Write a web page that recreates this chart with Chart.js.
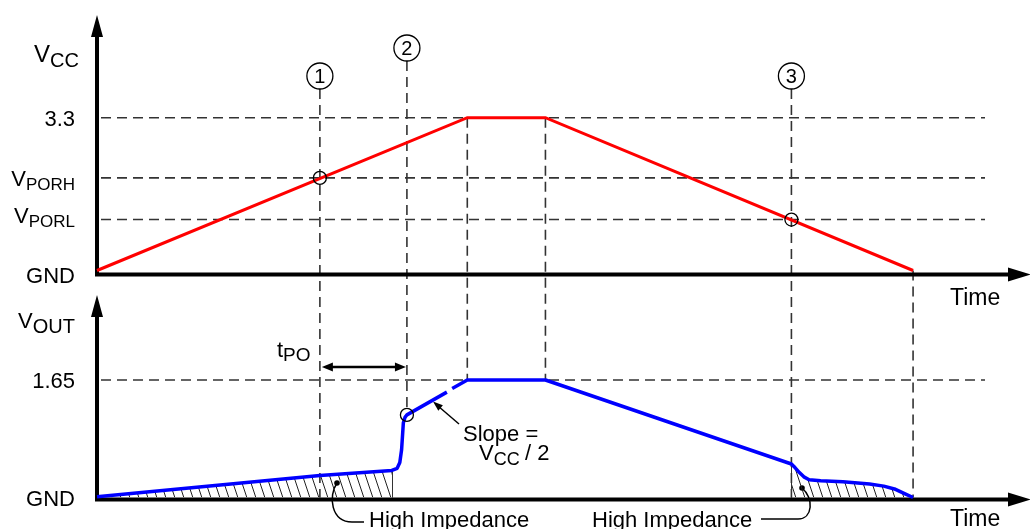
<!DOCTYPE html>
<html>
<head>
<meta charset="utf-8">
<script src="https://cdn.jsdelivr.net/npm/chart.js@4.4.1/dist/chart.umd.min.js"></script>
<style>
  html, body { margin: 0; padding: 0; background: #fff; }
  #wrap { position: relative; width: 1030px; height: 529px; overflow: hidden; }
  canvas { position: absolute; left: 0; top: 0; }
</style>
</head>
<body>
<div id="wrap">
  <canvas id="vout" width="1030" height="529"></canvas>
  <canvas id="vcc" width="1030" height="529"></canvas>
</div>
<script>
// ---- data (time in arbitrary units 0..100, voltages in V) ----
const eventTimes = [25.1, 34.9, 41.7, 50.5, 78.2, 91.9];
const markerTimes = [25.1, 34.9, 78.2];
const markerNames = ['1', '2', '3'];

const vccTime = [0, 41.7, 50.5, 91.9];
const vccVolts = [0, 3.3, 3.3, 0];
const vccLevels = [3.3, 2.0, 1.1];
const vccTickValues = [0, 1.1, 2.0, 3.3];
const vccTickLabels = ['GND', 'V_PORL', 'V_PORH', '3.3'];
const vccCrossings = [[25.1, 2.0], [78.2, 1.1]];

const voutTime = [0, 25.1, 33.2, 33.8, 34.1, 34.3, 34.5, 34.7, 34.9, 39.4, 39.7, 40.0, 41.7, 50.5,
                  78.2, 78.6, 79.1, 79.6, 80.2, 81.5, 84.0, 87.0, 88.6, 89.8, 91.0, 91.9];
const voutVolts = [0.01, 0.31, 0.38, 0.41, 0.49, 0.67, 1.05, 1.13, 1.16, 1.48, null, 1.53, 1.65, 1.65,
                   0.47, 0.42, 0.35, 0.29, 0.25, 0.235, 0.22, 0.19, 0.16, 0.12, 0.05, 0];
const voutLevels = [1.65];
const voutTickValues = [0, 1.65];
const voutTickLabels = ['GND', '1.65'];
const hatchBounds = [33.2, 78.2];
const tPO = [25.1, 34.9];

const FONT = '"Liberation Sans", Arial, sans-serif';
const DASH = '#333';

function pts(ts, vs) { return ts.map((t, i) => ({ x: t, y: vs[i] })); }

// draw text made of [text, size, dy] parts, left to right
function parts(ctx, list, x, y) {
  let cx = x;
  list.forEach(([s, size, dy]) => {
    ctx.font = size + 'px ' + FONT;
    ctx.fillText(s, cx, y + (dy || 0));
    cx += ctx.measureText(s).width;
  });
}
function partsWidth(ctx, list) {
  let w = 0;
  list.forEach(([s, size]) => { ctx.font = size + 'px ' + FONT; w += ctx.measureText(s).width; });
  return w;
}
function tickParts(lbl) {
  if (lbl.indexOf('_') < 0) return [[lbl, 22, 0]];
  const [a, b] = lbl.split('_');
  return [[a, 22, 0], [b, 17, 4]];
}
function tri(ctx, a, b, c) {
  ctx.beginPath(); ctx.moveTo(a[0], a[1]); ctx.lineTo(b[0], b[1]); ctx.lineTo(c[0], c[1]); ctx.closePath(); ctx.fill();
}
function dashLine(ctx, x1, y1, x2, y2) {
  ctx.save();
  ctx.strokeStyle = DASH; ctx.lineWidth = 1.6; ctx.setLineDash([10, 6]);
  ctx.beginPath(); ctx.moveTo(x1, y1); ctx.lineTo(x2, y2); ctx.stroke();
  ctx.restore();
}
function axes(ctx, x0, yAxis, yTip) {
  ctx.save();
  ctx.strokeStyle = '#000'; ctx.fillStyle = '#000'; ctx.lineWidth = 4;
  ctx.beginPath();
  ctx.moveTo(x0, yTip + 18); ctx.lineTo(x0, yAxis + 2);
  ctx.moveTo(x0 - 2, yAxis); ctx.lineTo(1012, yAxis);
  ctx.stroke();
  tri(ctx, [x0, yTip], [x0 - 6, yTip + 22], [x0 + 6, yTip + 22]);
  tri(ctx, [1031, yAxis], [1008, yAxis - 7], [1008, yAxis + 7]);
  ctx.restore();
}
function ring(ctx, x, y, r) {
  ctx.save();
  ctx.strokeStyle = '#000'; ctx.lineWidth = 1.3;
  ctx.beginPath(); ctx.arc(x, y, r, 0, Math.PI * 2); ctx.stroke();
  ctx.restore();
}

const vccDecor = {
  id: 'vccDecor',
  beforeDatasetsDraw(chart) {
    const { ctx, scales: { x, y } } = chart;
    vccLevels.forEach(v => dashLine(ctx, x.left + 4, y.getPixelForValue(v), x.right, y.getPixelForValue(v)));
    axes(ctx, x.left, y.getPixelForValue(0) + 4, 15);

    ctx.save();
    ctx.fillStyle = '#000'; ctx.textBaseline = 'alphabetic';
    const dys = [12.5, 3.5, 8.5, 8];
    vccTickValues.forEach((v, i) => {
      const p = tickParts(vccTickLabels[i]);
      parts(ctx, p, 75 - partsWidth(ctx, p), y.getPixelForValue(v) + dys[i]);
    });
    parts(ctx, [['V', 24, 0], ['CC', 20, 5]], 34, 62);
    parts(ctx, [['Time', 23, 0]], 950, 305);

    // circled event numbers
    const my = [76, 48, 76];
    markerTimes.forEach((t, i) => {
      const px = x.getPixelForValue(t);
      ring(ctx, px, my[i], 13);
      ctx.font = '20px ' + FONT; ctx.textAlign = 'center'; ctx.textBaseline = 'middle';
      ctx.fillText(markerNames[i], px, my[i] + 1);
    });
    ctx.restore();
  },
  afterDatasetsDraw(chart) {
    const { ctx, scales: { x, y } } = chart;
    vccCrossings.forEach(([t, v]) => ring(ctx, x.getPixelForValue(t), y.getPixelForValue(v), 6.5));
  }
};

const vccChart = new Chart(document.getElementById('vcc'), {
  type: 'line',
  data: {
    datasets: [{
      data: pts(vccTime, vccVolts),
      borderColor: '#ff0000', borderWidth: 3, pointRadius: 0, tension: 0, clip: false
    }]
  },
  options: {
    responsive: false, animation: false, events: [],
    layout: { padding: { left: 97, right: 45, top: 117.7, bottom: 529 - 270.5 } },
    scales: {
      x: { type: 'linear', min: 0, max: 100, display: false },
      y: { min: 0, max: 3.3, display: false }
    },
    plugins: { legend: { display: false }, tooltip: { enabled: false } }
  },
  plugins: [vccDecor]
});

const voutCanvas = document.getElementById('vout');
function hatchPattern() {
  // steep "\" hatch, 9 px apart
  const c = document.createElement('canvas');
  c.width = 9; c.height = 27;
  const g = c.getContext('2d');
  g.strokeStyle = '#222'; g.lineWidth = 1;
  g.beginPath();
  g.moveTo(-1, -3); g.lineTo(10, 30);
  g.moveTo(-10, -3); g.lineTo(1, 30);
  g.moveTo(8, -3); g.lineTo(19, 30);
  g.stroke();
  return voutCanvas.getContext('2d').createPattern(c, 'repeat');
}
const hatch = hatchPattern();
const hatch1 = pts(voutTime, voutVolts).filter(p => p.x <= hatchBounds[0]);
const hatch2 = pts(voutTime, voutVolts).filter(p => p.x >= hatchBounds[1]);

const voutDecor = {
  id: 'voutDecor',
  beforeDatasetsDraw(chart) {
    const { ctx, scales: { x, y } } = chart;
    const ty = vccChart.scales.y;
    const v2 = voutVolts[voutTime.indexOf(tPO[1])];
    const tops = [89, 61, ty.getPixelForValue(3.3), ty.getPixelForValue(3.3), 89, ty.getPixelForValue(0)];
    const bots = [y.getPixelForValue(0), y.getPixelForValue(v2) - 6.5, y.getPixelForValue(1.65),
                  y.getPixelForValue(1.65), y.getPixelForValue(0), y.getPixelForValue(0)];
    eventTimes.forEach((t, i) => {
      const px = x.getPixelForValue(t);
      dashLine(ctx, px, tops[i], px, bots[i]);
    });
    voutLevels.forEach(v => dashLine(ctx, x.left + 4, y.getPixelForValue(v), x.right, y.getPixelForValue(v)));

    // hatch boundaries
    ctx.save();
    ctx.strokeStyle = '#333'; ctx.lineWidth = 1;
    hatchBounds.forEach(t => {
      const v = voutVolts[voutTime.indexOf(t)];
      const px = Math.round(x.getPixelForValue(t)) + 0.5;
      ctx.beginPath(); ctx.moveTo(px, y.getPixelForValue(0)); ctx.lineTo(px, y.getPixelForValue(v)); ctx.stroke();
    });
    ctx.restore();

    axes(ctx, x.left, y.getPixelForValue(0) + 2, 295);

    ctx.save();
    ctx.fillStyle = '#000'; ctx.strokeStyle = '#000'; ctx.textBaseline = 'alphabetic';
    const dys = [8, 8];
    voutTickValues.forEach((v, i) => {
      const p = tickParts(voutTickLabels[i]);
      parts(ctx, p, 75 - partsWidth(ctx, p), y.getPixelForValue(v) + dys[i]);
    });
    parts(ctx, [['V', 22, 0], ['OUT', 20, 5]], 18, 328);
    parts(ctx, [['Time', 23, 0]], 950, 526);

    // t_PO arrow
    const ax1 = x.getPixelForValue(tPO[0]) + 2, ax2 = x.getPixelForValue(tPO[1]) - 1, ay = 367;
    ctx.lineWidth = 2.5;
    ctx.beginPath(); ctx.moveTo(ax1 + 6, ay); ctx.lineTo(ax2 - 6, ay); ctx.stroke();
    tri(ctx, [ax1, ay], [ax1 + 11, ay - 4.5], [ax1 + 11, ay + 4.5]);
    tri(ctx, [ax2, ay], [ax2 - 11, ay - 4.5], [ax2 - 11, ay + 4.5]);
    parts(ctx, [['t', 22, 0], ['PO', 19, 4]], 277, 357);

    // slope note
    parts(ctx, [['Slope =', 22, 0]], 463, 441);
    parts(ctx, [['V', 22, 0], ['CC', 18, 5]], 479, 460);
    parts(ctx, [['/ 2', 22, 0]], 525, 460);
    ctx.lineWidth = 1.5;
    ctx.beginPath(); ctx.moveTo(459, 424); ctx.lineTo(438, 406); ctx.stroke();
    const ang = Math.atan2(406 - 424, 438 - 459);
    const hx = 433, hy = 401.5;
    tri(ctx, [hx, hy],
      [hx - 10 * Math.cos(ang) + 3.5 * Math.sin(ang), hy - 10 * Math.sin(ang) - 3.5 * Math.cos(ang)],
      [hx - 10 * Math.cos(ang) - 3.5 * Math.sin(ang), hy - 10 * Math.sin(ang) + 3.5 * Math.cos(ang)]);

    // high impedance notes
    parts(ctx, [['High Impedance', 22, 0]], 369, 527);
    parts(ctx, [['High Impedance', 22, 0]], 592, 527);
    ctx.lineWidth = 1.5;
    ctx.beginPath();
    ctx.moveTo(337, 483); ctx.bezierCurveTo(328, 496, 331, 522, 352, 522); ctx.lineTo(364, 522);
    ctx.moveTo(761, 519); ctx.lineTo(798, 519); ctx.bezierCurveTo(813, 519, 814, 498, 802, 488);
    ctx.stroke();
    ctx.beginPath(); ctx.arc(337, 483, 2.8, 0, Math.PI * 2); ctx.fill();
    ctx.beginPath(); ctx.arc(802, 488, 2.8, 0, Math.PI * 2); ctx.fill();
    ctx.restore();
  },
  afterDatasetsDraw(chart) {
    const { ctx, scales: { x, y } } = chart;
    const v2 = voutVolts[voutTime.indexOf(tPO[1])];
    ring(ctx, x.getPixelForValue(tPO[1]), y.getPixelForValue(v2), 6.5);
  }
};

new Chart(voutCanvas, {
  type: 'line',
  data: {
    datasets: [
      {
        data: pts(voutTime, voutVolts),
        borderColor: '#0000ff', borderWidth: 3.5, pointRadius: 0, tension: 0,
        spanGaps: false, clip: false, borderJoinStyle: 'round'
      },
      { data: hatch1, borderWidth: 0, pointRadius: 0, tension: 0, fill: 'origin', backgroundColor: hatch },
      { data: hatch2, borderWidth: 0, pointRadius: 0, tension: 0, fill: 'origin', backgroundColor: hatch }
    ]
  },
  options: {
    responsive: false, animation: false, events: [],
    layout: { padding: { left: 97, right: 45, top: 380, bottom: 529 - 497.5 } },
    scales: {
      x: { type: 'linear', min: 0, max: 100, display: false },
      y: { min: 0, max: 1.65, display: false }
    },
    plugins: { legend: { display: false }, tooltip: { enabled: false } }
  },
  plugins: [voutDecor]
});
</script>
</body>
</html>
